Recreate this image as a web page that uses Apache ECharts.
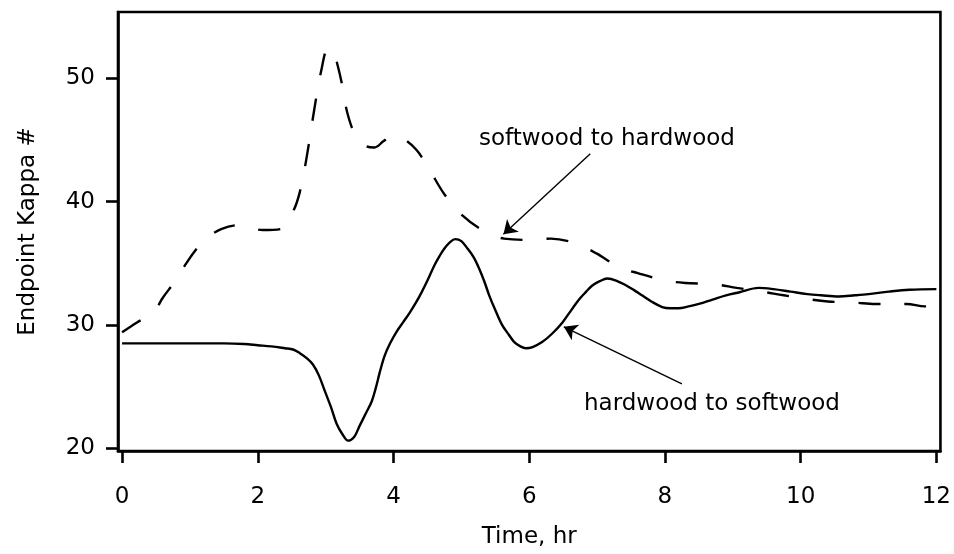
<!DOCTYPE html>
<html>
<head>
<meta charset="utf-8">
<script src="https://cdn.jsdelivr.net/npm/echarts@6/dist/echarts.min.js"></script>
<style>
    html, body { margin: 0; padding: 0; background: #fff; }
    #kappaChart { width: 954px; height: 554px; }
</style>
</head>
<body>
<div id="kappaChart"></div>
<script>
    // hardwood -> softwood (solid)
    var hsTime = [0, 0.5, 1.0, 1.5, 1.8, 2.0, 2.2, 2.4, 2.52, 2.62, 2.72, 2.81, 2.9, 2.99, 3.08, 3.16, 3.25, 3.33, 3.42, 3.5,
        3.6, 3.68, 3.74, 3.8, 3.87, 3.95, 4.04, 4.14, 4.24, 4.33, 4.41, 4.5, 4.6, 4.68, 4.75, 4.83, 4.91, 5.0, 5.09, 5.18, 5.26,
        5.34, 5.41, 5.5, 5.6, 5.7, 5.78, 5.87, 5.95, 6.05, 6.19, 6.34, 6.49, 6.62, 6.74, 6.84, 6.93, 7.04, 7.15, 7.28, 7.43,
        7.55, 7.66, 7.8, 7.96, 8.08, 8.2, 8.35, 8.5, 8.7, 8.9, 9.1, 9.38, 9.6, 9.85, 10.1, 10.3, 10.56, 10.8, 11.0, 11.3, 11.6, 12]
    var hsKappa = [28.5, 28.5, 28.5, 28.5, 28.45, 28.35, 28.25, 28.1, 28.0, 27.7, 27.3, 26.8, 25.9, 24.6, 23.3, 22.0, 21.1, 20.6, 20.9, 21.8,
        22.9, 23.8, 24.9, 26.2, 27.5, 28.5, 29.4, 30.2, 31.0, 31.8, 32.6, 33.6, 34.8, 35.6, 36.2, 36.7, 36.96, 36.8, 36.2, 35.5, 34.6,
        33.5, 32.4, 31.2, 30.0, 29.2, 28.6, 28.25, 28.1, 28.2, 28.6, 29.3, 30.2, 31.2, 32.1, 32.7, 33.2, 33.55, 33.76, 33.6, 33.2,
        32.8, 32.4, 31.9, 31.45, 31.35, 31.35, 31.5, 31.7, 32.05, 32.4, 32.65, 33.0, 32.9, 32.7, 32.5, 32.4, 32.3, 32.4, 32.5, 32.7, 32.85, 32.9]

    // softwood -> hardwood (dashed)
    var shTime = [0, 0.22, 0.46, 0.6, 0.76, 0.9, 1.06, 1.24, 1.47, 1.74, 2.07, 2.35, 2.52, 2.62, 2.72, 2.83, 2.93, 3.04, 3.12, 3.18,
        3.25, 3.32, 3.44, 3.6, 3.72, 3.85, 3.99, 4.15, 4.34, 4.53, 4.75, 5.01, 5.34, 5.63, 6.0, 6.32, 6.69, 6.99, 7.32, 7.6,
        8.0, 8.3, 8.72, 9.06, 9.43, 9.75, 10.1, 10.4, 10.8, 11.1, 11.56, 11.83, 12]
    var shKappa = [29.4, 30.2, 31.0, 32.2, 33.4, 34.6, 35.9, 37.0, 37.8, 38.1, 37.7, 37.8, 39.2, 40.8, 43.6, 47.4, 50.5, 52.5, 52.0, 51.0,
        49.3, 47.2, 45.4, 44.5, 44.4, 44.9, 45.4, 45.1, 44.2, 42.6, 40.6, 38.9, 37.6, 37.0, 36.9, 37.0, 36.6, 35.8, 34.7, 34.2,
        33.6, 33.4, 33.3, 33.0, 32.7, 32.4, 32.1, 31.9, 31.8, 31.7, 31.7, 31.5, 31.5]

    var xTicks = [0, 2, 4, 6, 8, 10, 12]
    var yTicks = [20, 30, 40, 50]

    function pairs(xs, ys) {
        return xs.map(function (x, i) { return [x, ys[i]] })
    }

    var font = 'DejaVu Sans'
    var chart = echarts.init(document.getElementById('kappaChart'))

    // arrow from label to curve
    function arrow(from, to) {
        return {
            silent: true,
            symbol: ['none', 'arrow'],
            symbolSize: 13,
            label: { show: false },
            lineStyle: { color: '#000', width: 1.4, type: 'solid' },
            data: [[{ coord: from }, { coord: to }]]
        }
    }

    chart.setOption({
        animation: false,
        backgroundColor: '#fff',
        grid: {
            show: true,
            left: 118, top: 12, right: 12, bottom: 96,
            borderColor: '#000',
            borderWidth: 2.6
        },
        xAxis: {
            type: 'value',
            min: -0.06, max: 12.06,
            name: 'Time, hr',
            nameLocation: 'middle',
            nameGap: 75,
            nameTextStyle: { color: '#000', fontFamily: font, fontSize: 23 },
            axisLine: { show: true, onZero: false, lineStyle: { color: '#000', width: 2.6 } },
            axisTick: { show: true, length: 12, customValues: xTicks, lineStyle: { color: '#000', width: 2.6 } },
            axisLabel: { customValues: xTicks, margin: 35, color: '#000', fontFamily: font, fontSize: 23 },
            splitLine: { show: false }
        },
        yAxis: {
            type: 'value',
            min: 19.76, max: 55.4,
            name: 'Endpoint Kappa #',
            nameLocation: 'middle',
            nameGap: 78,
            nameTextStyle: { color: '#000', fontFamily: font, fontSize: 23 },
            axisLine: { show: true, onZero: false, lineStyle: { color: '#000', width: 2.6 } },
            axisTick: { show: true, length: 12, customValues: yTicks, lineStyle: { color: '#000', width: 2.6 } },
            axisLabel: { customValues: yTicks, margin: 23, color: '#000', fontFamily: font, fontSize: 23 },
            splitLine: { show: false }
        },
        series: [
            {
                name: 'hardwood to softwood',
                type: 'line',
                data: pairs(hsTime, hsKappa),
                smooth: 0.35,
                showSymbol: false,
                lineStyle: { color: '#000', width: 2.4 },
                markLine: arrow([8.25, 25.2], [6.51, 29.84])
            },
            {
                name: 'softwood to hardwood',
                type: 'line',
                data: pairs(shTime, shKappa),
                smooth: 0.35,
                showSymbol: false,
                lineStyle: { color: '#000', width: 2.4, type: [22, 24], cap: 'butt' },
                markLine: arrow([6.9, 43.9], [5.62, 37.36])
            }
        ],
        graphic: [
            {
                type: 'text', left: 479, top: 128,
                style: { text: 'softwood to hardwood', fill: '#000', font: '23px "DejaVu Sans"' }
            },
            {
                type: 'text', left: 584, top: 393,
                style: { text: 'hardwood to softwood', fill: '#000', font: '23px "DejaVu Sans"' }
            }
        ]
    })
</script>
</body>
</html>
